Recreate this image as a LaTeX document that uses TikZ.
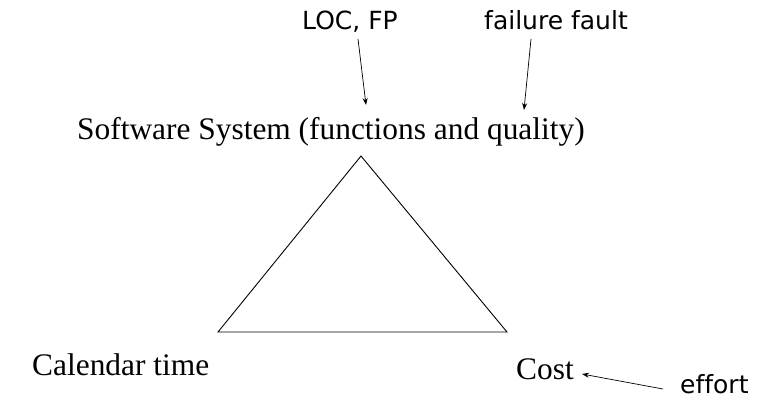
\documentclass[tikz,border=0pt]{standalone}
\usepackage{fontspec}
\setmainfont{Liberation Serif}
\newfontfamily\labfont[Ligatures=NoCommon]{DejaVu Sans}
\usetikzlibrary{arrows.meta}
\tikzset{
  serifl/.style={inner sep=0pt, anchor=base west, font=\fontsize{31.4}{34}\selectfont},
  sansl/.style={inner sep=0pt, anchor=base west, font=\labfont\fontsize{25}{28}\selectfont},
  ptr/.style={draw=black, line width=0.7pt, -{Stealth[length=7pt,width=5pt]}},
  tri/.style={draw=black, line width=0.9pt, line join=miter}
}
\begin{document}
\begin{tikzpicture}[x=1pt,y=-1pt]
\useasboundingbox (0,0) rectangle (773,415);
% labels
\node[sansl] (loc) at (302,29) {LOC, FP};
\node[sansl] (fail) at (484,29) {failure fault};
\node[serifl] (sys) at (77,139) {Software System (functions and quality)};
\node[serifl] (cal) at (32,375) {Calendar time};
\node[serifl] (cost) at (516,379) {Cost};
\node[sansl] (eff) at (680,393) {effort};
% arrow ends
\coordinate (locs) at (358,39);
\coordinate (loce) at (366,105);
\coordinate (fails) at (531,39);
\coordinate (faile) at (524,110);
\coordinate (effs) at (663,389);
\coordinate (effe) at (582,374);
\draw[ptr] (locs) -- (loce);
\draw[ptr] (fails) -- (faile);
\draw[ptr] (effs) -- (effe);
% triangle
\coordinate (top) at (361,156);
\coordinate (bl) at (218,332);
\coordinate (br) at (507,332);
\draw[tri] (top) -- (bl) -- (br) -- cycle;
\end{tikzpicture}
\end{document}
